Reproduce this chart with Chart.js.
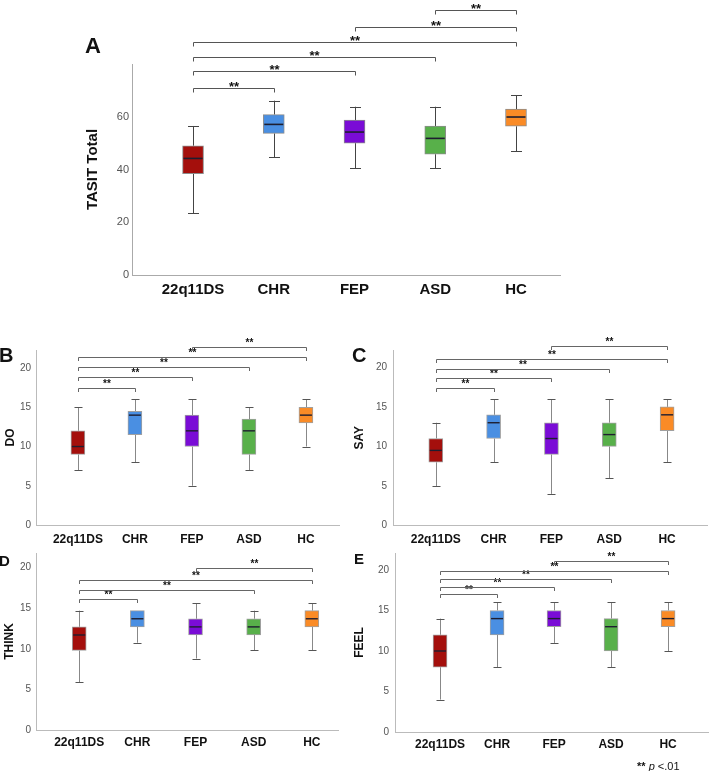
<!DOCTYPE html>
<html>
<head>
<meta charset="utf-8">
<title>TASIT box plots</title>
<script src="https://cdn.jsdelivr.net/npm/chart.js@4.4.1/dist/chart.umd.min.js"></script>
<style>
  html, body { margin: 0; padding: 0; background: #fff; }
  #page { position: relative; width: 709px; height: 771px; overflow: hidden; font-family: 'Liberation Sans', Arial, sans-serif; }
  .panel { position: absolute; }
  .letter { position: absolute; font-weight: bold; color: #111; line-height: 1; }
  .note { position: absolute; left: 637px; top: 761px; font-size: 11px; line-height: 11px; color: #111; white-space: nowrap; }
</style>
</head>
<body>
<div id="page">
  <div class="panel" style="left:0;top:0"><canvas id="chartA" width="709" height="310"></canvas></div>
  <div class="panel" style="left:0;top:330px"><canvas id="chartB" width="350" height="225"></canvas></div>
  <div class="panel" style="left:350px;top:330px"><canvas id="chartC" width="359" height="225"></canvas></div>
  <div class="panel" style="left:0;top:535px"><canvas id="chartD" width="350" height="230"></canvas></div>
  <div class="panel" style="left:350px;top:535px"><canvas id="chartE" width="359" height="236"></canvas></div>

  <div class="letter" style="left:85px;top:35px;font-size:22px">A</div>
  <div class="letter" style="left:-1px;top:345px;font-size:20px">B</div>
  <div class="letter" style="left:352px;top:345px;font-size:20px">C</div>
  <div class="letter" style="left:-1px;top:553px;font-size:15px">D</div>
  <div class="letter" style="left:354px;top:551px;font-size:15px">E</div>
  <div class="note"><b>**</b> <i>p</i> &lt;.01</div>
</div>

<script>
Chart.defaults.font.family = "'Liberation Sans', Arial, sans-serif";
Chart.defaults.color = '#555';

// groups and colours
const groups = ['22q11DS', 'CHR', 'FEP', 'ASD', 'HC'];
const groupColors = ['#a40f0c', '#4a8fe2', '#7a0cd6', '#58b04a', '#fa8b26'];

// [min, q1, median, q3, max] for each group
const totalStats = [[23.4, 38.4, 44.2, 49.0, 56.5], [44.7, 53.7, 57.1, 60.8, 66.1], [40.5, 50.0, 54.2, 58.7, 63.8], [40.5, 45.8, 51.8, 56.5, 63.8], [47.0, 56.4, 59.9, 62.9, 68.1]];
const doStats = [[7, 9, 10, 12, 15], [8, 11.5, 14, 14.5, 16], [5, 10, 12, 14, 16], [7, 9, 12, 13.5, 15], [10, 13, 14, 15, 16]];
const sayStats = [[5, 8, 9.5, 11, 13], [8, 11, 13, 14, 16], [4, 9, 11, 13, 16], [6, 10, 11.5, 13, 16], [8, 12, 14, 15, 16]];
const thinkStats = [[5.9, 9.8, 11.7, 12.7, 14.7], [10.75, 12.7, 13.7, 14.7, 14.7], [8.8, 11.7, 12.7, 13.7, 15.6], [9.8, 11.7, 12.7, 13.7, 14.7], [9.8, 12.7, 13.7, 14.7, 15.6]];
const feelStats = [[4, 8, 10, 12, 14], [8, 12, 14, 15, 16], [11, 13, 14, 15, 16], [8, 10, 13, 14, 16], [10, 13, 14, 15, 16]];

// significance brackets: [group from, group to, height in axis units]
const totalPairs = [[0, 1, 70.8], [0, 2, 77.2], [0, 3, 82.7], [0, 4, 88.3], [2, 4, 94.0], [3, 4, 100.5]];
const doPairs = [[0, 1, 17.5], [0, 2, 18.85], [0, 3, 20.1], [0, 4, 21.4], [2, 4, 22.7]];
const sayPairs = [[0, 1, 17.45], [0, 2, 18.6], [0, 3, 19.85], [0, 4, 21.1], [2, 4, 22.7]];
const thinkPairs = [[0, 1, 16.1], [0, 3, 17.3], [0, 4, 18.5], [2, 4, 19.9]];
const feelPairs = [[0, 1, 17.0], [0, 2, 17.9], [0, 3, 18.9], [0, 4, 19.9], [2, 4, 21.15]];

// y tick labels
const totalTicks = [0, 20, 40, 60];
const subTicks = [0, 5, 10, 15, 20];

const bigStyle = {
  boxW: 21, capW: 11, whisker: '#444', cap: '#444', median: '#1e1e30', medianW: 1.6, boxEdge: '#8d8d8d',
  axis: '#aaa', bracket: '#555', tick: 4, starFont: 13, starDy: 2.5,
  xFont: 15, yFont: 11, titleFont: 15
};
const smallStyle = {
  boxW: 14, capW: 8, whisker: '#888', cap: '#555', median: '#1e1e30', medianW: 1.4, boxEdge: '#a0a0a0',
  axis: '#bbb', bracket: '#666', tick: 3.5, starFont: 10, starDy: -1.2,
  xFont: 12, yFont: 10, titleFont: 12
};

// whiskers, medians and significance brackets, placed through the chart scales
function boxExtras(stats, pairs, st) {
  return {
    id: 'boxExtras',
    beforeDatasetsDraw(chart) {
      const { ctx, scales: { x, y } } = chart;
      ctx.save();
      ctx.lineWidth = 1;
      stats.forEach((s, i) => {
        const px = Math.round(x.getPixelForValue(i + 1)) + 0.5;
        const [lo, q1, , q3, hi] = s;
        ctx.strokeStyle = st.whisker;
        ctx.beginPath();
        ctx.moveTo(px, y.getPixelForValue(lo));
        ctx.lineTo(px, y.getPixelForValue(q1));
        ctx.moveTo(px, y.getPixelForValue(q3));
        ctx.lineTo(px, y.getPixelForValue(hi));
        ctx.stroke();
        ctx.strokeStyle = st.cap;
        ctx.beginPath();
        [lo, hi].forEach(v => {
          const py = Math.round(y.getPixelForValue(v)) + 0.5;
          ctx.moveTo(px - st.capW / 2, py);
          ctx.lineTo(px + st.capW / 2, py);
        });
        ctx.stroke();
      });
      ctx.restore();
    },
    afterDatasetsDraw(chart) {
      const { ctx, scales: { x, y } } = chart;
      ctx.save();
      ctx.strokeStyle = st.median;
      ctx.lineWidth = st.medianW;
      stats.forEach((s, i) => {
        const px = x.getPixelForValue(i + 1);
        const py = y.getPixelForValue(s[2]);
        ctx.beginPath();
        ctx.moveTo(px - st.boxW / 2 + 1, py);
        ctx.lineTo(px + st.boxW / 2 - 1, py);
        ctx.stroke();
      });
      ctx.restore();
    },
    afterDraw(chart) {
      const { ctx, scales: { x, y } } = chart;
      ctx.save();
      ctx.strokeStyle = st.bracket;
      ctx.fillStyle = '#111';
      ctx.lineWidth = 1;
      ctx.font = 'bold ' + st.starFont + "px 'Liberation Sans', Arial, sans-serif";
      ctx.textAlign = 'center';
      ctx.textBaseline = 'alphabetic';
      pairs.forEach(([a, b, lvl]) => {
        const x1 = Math.round(x.getPixelForValue(a + 1)) + 0.5;
        const x2 = Math.round(x.getPixelForValue(b + 1)) + 0.5;
        const py = Math.round(y.getPixelForValue(lvl)) + 0.5;
        ctx.beginPath();
        ctx.moveTo(x1, py + st.tick);
        ctx.lineTo(x1, py);
        ctx.lineTo(x2, py);
        ctx.lineTo(x2, py + st.tick);
        ctx.stroke();
        ctx.fillText('**', (x1 + x2) / 2, py + st.starDy);
      });
      ctx.restore();
    }
  };
}

function makePanel(id, stats, pairs, p, st) {
  return new Chart(document.getElementById(id), {
    type: 'bar',
    data: {
      datasets: [{
        data: stats.map((s, i) => ({ x: i + 1, y: [s[1], s[3]] })),
        backgroundColor: groupColors,
        borderColor: st.boxEdge,
        borderWidth: 1,
        borderSkipped: false,
        barThickness: st.boxW
      }]
    },
    options: {
      responsive: false,
      animation: false,
      events: [],
      layout: { padding: p.pad },
      plugins: { legend: { display: false }, tooltip: { enabled: false } },
      scales: {
        x: {
          type: 'linear',
          offset: false,
          min: p.xMin,
          max: p.xMax,
          grid: { display: false, drawTicks: false, offset: false },
          border: { display: true, color: st.axis },
          afterBuildTicks: s => { s.ticks = groups.map((g, i) => ({ value: i + 1 })); },
          afterFit: s => { s.height = p.xHeight; },
          ticks: {
            padding: p.xPad,
            color: '#111',
            font: { size: st.xFont, weight: 'bold' },
            maxRotation: 0,
            autoSkip: false,
            callback: v => groups[v - 1]
          }
        },
        y: {
          min: 0,
          max: p.yMax,
          grid: { display: false, drawTicks: false },
          border: { display: true, color: st.axis },
          afterBuildTicks: s => { s.ticks = p.yTicks.map(v => ({ value: v })); },
          afterFit: s => { s.width = p.yWidth; },
          ticks: { padding: p.yPad, color: '#555', font: { size: st.yFont } },
          title: {
            display: true,
            text: p.title,
            color: '#111',
            font: { size: st.titleFont, weight: 'bold' },
            padding: { top: p.titlePad, bottom: 0 }
          }
        }
      }
    },
    plugins: [boxExtras(stats, pairs, st)]
  });
}

makePanel('chartA', totalStats, totalPairs, {
  title: 'TASIT Total', yMax: 80, yTicks: totalTicks, xMin: 0.244, xMax: 5.545,
  pad: { left: 80, right: 149, top: 64, bottom: 5 }, yWidth: 52, xHeight: 30, xPad: 6, yPad: 3, titlePad: 4
}, bigStyle);

makePanel('chartB', doStats, doPairs, {
  title: 'DO', yMax: 22.3, yTicks: subTicks, xMin: 0.265, xMax: 5.58,
  pad: { left: 0, right: 11, top: 20, bottom: 5 }, yWidth: 36, xHeight: 25, xPad: 7, yPad: 5, titlePad: 3.5
}, smallStyle);

makePanel('chartC', sayStats, sayPairs, {
  title: 'SAY', yMax: 22.2, yTicks: subTicks, xMin: 0.26, xMax: 5.69,
  pad: { left: 0, right: 2, top: 20, bottom: 4.5 }, yWidth: 43, xHeight: 25, xPad: 7, yPad: 6, titlePad: 2.8
}, smallStyle);

makePanel('chartD', thinkStats, thinkPairs, {
  title: 'THINK', yMax: 21.8, yTicks: subTicks, xMin: 0.257, xMax: 5.45,
  pad: { left: 0, right: 12, top: 18, bottom: 10 }, yWidth: 36, xHeight: 25, xPad: 5.5, yPad: 5, titlePad: 2.8
}, smallStyle);

makePanel('chartE', feelStats, feelPairs, {
  title: 'FEEL', yMax: 22.1, yTicks: subTicks, xMin: 0.21, xMax: 5.7,
  pad: { left: 0, right: 1, top: 18, bottom: 14 }, yWidth: 45, xHeight: 25, xPad: 5, yPad: 6, titlePad: 2.8
}, smallStyle);
</script>
</body>
</html>
